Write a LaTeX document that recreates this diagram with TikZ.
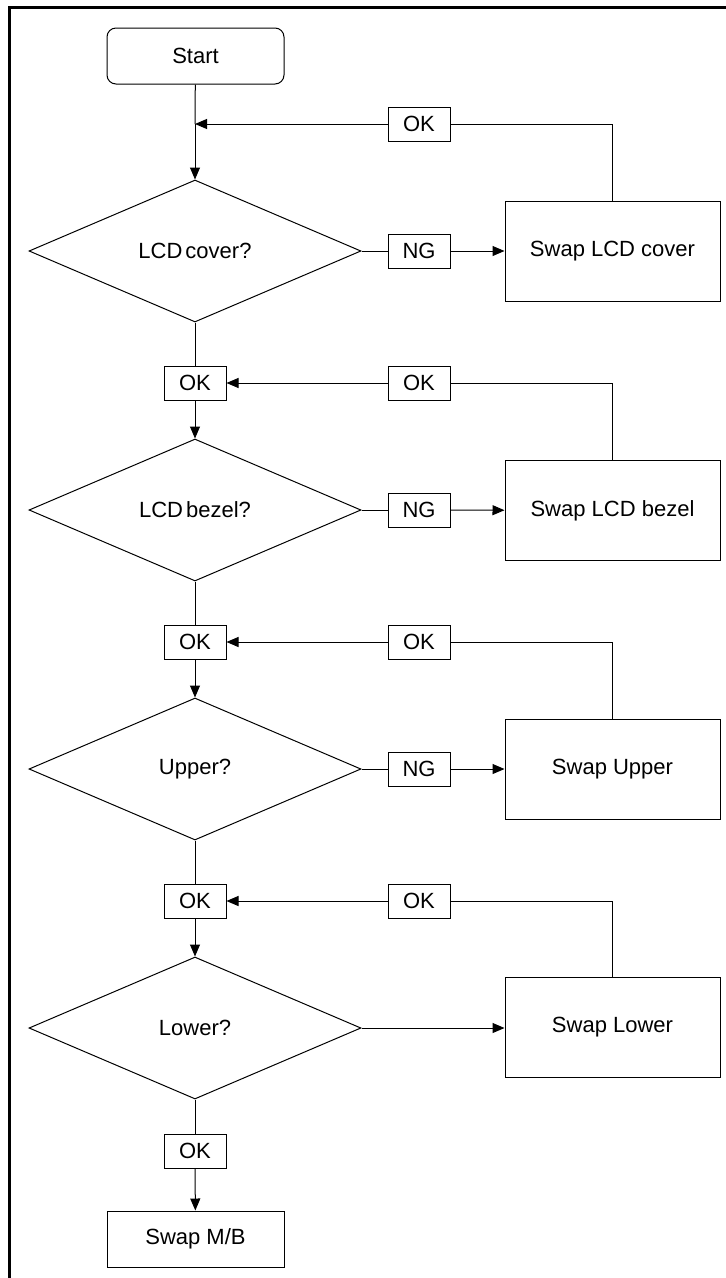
\documentclass[tikz,border=0pt]{standalone}
\usepackage{fontspec}
\setmainfont{Liberation Sans}
\usetikzlibrary{shapes.geometric,arrows.meta}
\begin{document}
\begin{tikzpicture}[x=1pt,y=-1pt,
  every node/.style={font=\fontsize{22}{26}\selectfont},
  line/.style={line width=1pt},
  arr/.style={line width=1pt,-{Triangle[length=12pt,width=10pt]}},
  tag/.style={draw,line width=1pt,minimum width=62pt,minimum height=34pt,inner sep=0pt},
  swapbox/.style={draw,line width=1pt,minimum width=215pt,minimum height=100pt,inner sep=0pt},
  decision/.style={draw,diamond,line width=1pt,minimum width=332pt,minimum height=142pt,inner sep=0pt,aspect=2.34},
  term/.style={draw,line width=1pt,rounded corners=9pt,minimum width=177pt,minimum height=56pt,inner sep=0pt},
  endbox/.style={draw,line width=1pt,minimum width=177pt,minimum height=56pt,inner sep=0pt}]
\useasboundingbox (0,0) rectangle (726,1278);
\draw[line width=3pt] (9,1278) -- (9,7) -- (726,7);

% nodes
\node[term] (start) at (195.5,56) {Start};
\coordinate (j1) at (195,124);
\node[tag] (okr1) at (419,124) {OK};
\node[decision] (d1) at (195,251) {LCD\kern3pt cover?};
\node[tag] (ng1) at (419,251) {NG};
\node[swapbox] (s1) at (612.5,251) {Swap LCD cover};

\node[tag] (okl1) at (195,383) {OK};
\node[tag] (okr2) at (419,383) {OK};
\node[decision] (d2) at (195,510) {LCD\kern3pt bezel?};
\node[tag] (ng2) at (419,510) {NG};
\node[swapbox] (s2) at (612.5,510.5) {Swap LCD bezel};

\node[tag] (okl2) at (195,642) {OK};
\node[tag] (okr3) at (419,642) {OK};
\node[decision] (d3) at (195,769) {Upper?};
\node[tag] (ng3) at (419,769) {NG};
\node[swapbox] (s3) at (612.5,769) {Swap Upper};

\node[tag] (okl3) at (195,901) {OK};
\node[tag] (okr4) at (419,901) {OK};
\node[decision] (d4) at (195,1028) {Lower?};
\node[swapbox] (s4) at (612.5,1027) {Swap Lower};

\node[tag] (okl4) at (195,1151) {OK};
\node[endbox] (mb) at (195.5,1239) {Swap M/B};

% connectors
\draw[line] (start) -- (j1);
\draw[arr] (j1) -- (d1);
\draw[line] (s1.north) |- (okr1.east);
\draw[arr] (okr1) -- (j1);
\draw[line] (d1) -- (ng1);
\draw[arr] (ng1) -- (s1);

\draw[line] (d1) -- (okl1);
\draw[arr] (okl1) -- (d2);
\draw[line] (s2.north) |- (okr2.east);
\draw[arr] (okr2) -- (okl1);
\draw[line] (d2) -- (ng2);
\draw[arr] (ng2) -- (s2);

\draw[line] (d2) -- (okl2);
\draw[arr] (okl2) -- (d3);
\draw[line] (s3.north) |- (okr3.east);
\draw[arr] (okr3) -- (okl2);
\draw[line] (d3) -- (ng3);
\draw[arr] (ng3) -- (s3);

\draw[line] (d3) -- (okl3);
\draw[arr] (okl3) -- (d4);
\draw[line] (s4.north) |- (okr4.east);
\draw[arr] (okr4) -- (okl3);
\draw[arr] (d4) -- (s4.west |- d4);

\draw[line] (d4) -- (okl4);
\draw[arr] (okl4) -- (mb);
\end{tikzpicture}
\end{document}
